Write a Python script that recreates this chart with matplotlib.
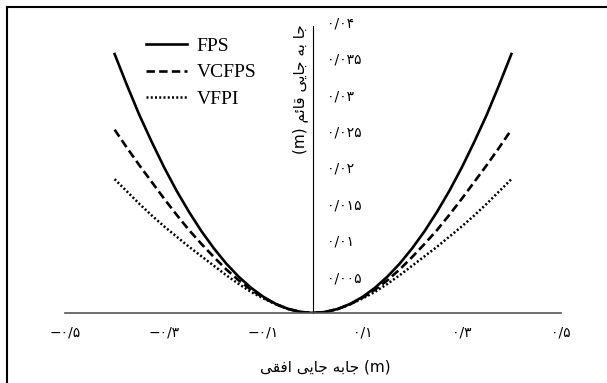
import matplotlib
matplotlib.use('Agg')
import matplotlib.pyplot as plt
from matplotlib.lines import Line2D
from matplotlib.transforms import ScaledTranslation

# داده ها (خوانده شده از تصویر)
x = [-0.4, -0.375, -0.35, -0.325, -0.3, -0.275, -0.25, -0.225, -0.2, -0.175, -0.15, -0.125,
     -0.1, -0.075, -0.05, -0.025, 0.0, 0.025, 0.05, 0.075, 0.1, 0.125, 0.15, 0.175,
     0.2, 0.225, 0.25, 0.275, 0.3, 0.325, 0.35, 0.375, 0.4]
fps = [0.0356, 0.0313, 0.0272, 0.0235, 0.0200, 0.0168, 0.0139, 0.01125, 0.0089, 0.0068, 0.0050, 0.00347,
       0.00222, 0.00125, 0.00056, 0.00014, 0.0, 0.00014, 0.00056, 0.00125, 0.00222, 0.00347, 0.0050, 0.0068,
       0.0089, 0.01125, 0.0139, 0.0168, 0.0200, 0.0235, 0.0272, 0.0313, 0.0356]
vcfps = [0.0252, 0.0227, 0.0203, 0.0180, 0.0157, 0.0135, 0.0114, 0.0095, 0.0077, 0.0060, 0.0045, 0.0032,
         0.0021, 0.0012, 0.00055, 0.00014, 0.0, 0.00014, 0.00055, 0.0012, 0.0021, 0.0032, 0.0045, 0.0060,
         0.0077, 0.0095, 0.0114, 0.0135, 0.0157, 0.0180, 0.0203, 0.0227, 0.0252]
vfpi = [0.0184, 0.0167, 0.0150, 0.0134, 0.0119, 0.0105, 0.0091, 0.0078, 0.0065, 0.0052, 0.0040, 0.0029,
        0.0020, 0.0012, 0.00054, 0.00014, 0.0, 0.00014, 0.00054, 0.0012, 0.0020, 0.0029, 0.0040, 0.0052,
        0.0065, 0.0078, 0.0091, 0.0105, 0.0119, 0.0134, 0.0150, 0.0167, 0.0184]

x_ticks = [-0.5, -0.3, -0.1, 0.1, 0.3, 0.5]
x_tick_labels = ['\u2212۰/۵', '\u2212۰/۳', '\u2212۰/۱', '۰/۱', '۰/۳', '۰/۵']
y_ticks = [0.005, 0.01, 0.015, 0.02, 0.025, 0.03, 0.035, 0.04]
y_tick_labels = ['۰/۰۰۵', '۰/۰۱', '۰/۰۱۵', '۰/۰۲', '۰/۰۲۵', '۰/۰۳', '۰/۰۳۵', '۰/۰۴']

# شکل حروف فارسی (تنها، پایانی، آغازی، میانی)
FORMS = {
    'ج': ('\uFE9D', '\uFE9E', '\uFE9F', '\uFEA0'),
    'ب': ('\uFE8F', '\uFE90', '\uFE91', '\uFE92'),
    'ه': ('\uFEE9', '\uFEEA', '\uFEEB', '\uFEEC'),
    'ی': ('\uFBFC', '\uFBFD', '\uFBFE', '\uFBFF'),
    'ق': ('\uFED5', '\uFED6', '\uFED7', '\uFED8'),
    'ئ': ('\uFE89', '\uFE8A', '\uFE8B', '\uFE8C'),
    'م': ('\uFEE1', '\uFEE2', '\uFEE3', '\uFEE4'),
    'ف': ('\uFED1', '\uFED2', '\uFED3', '\uFED4'),
    'ا': ('\uFE8D', '\uFE8E', None, None),
}


def farsi(text):
    out = []
    for i, ch in enumerate(text):
        if ch not in FORMS:
            out.append(ch)
            continue
        prev = text[i - 1] if i > 0 else ''
        nxt = text[i + 1] if i + 1 < len(text) else ''
        join_prev = prev in FORMS and FORMS[prev][2] is not None
        join_next = FORMS[ch][2] is not None and nxt in FORMS
        iso, fin, ini, med = FORMS[ch]
        if join_prev and join_next:
            out.append(med)
        elif join_prev:
            out.append(fin)
        elif join_next:
            out.append(ini)
        else:
            out.append(iso)
    return ''.join(out)[::-1]


x_label = farsi('جابه جایی افقی') + ' (m)'
y_label = '(m) ' + farsi('جا به جایی قائم')

fig = plt.figure(figsize=(6.07, 3.83), dpi=100)
ax = fig.add_axes([65 / 607, 70 / 383, 496 / 607, 291 / 383])

ax.plot(x, fps, color='black', lw=1.9, label='FPS')
ax.plot(x, vcfps, color='black', lw=1.9, linestyle=(0, (3.2, 1.6)), label='VCFPS')
ax.plot(x, vfpi, color='black', lw=1.8, linestyle=(0, (0.8, 0.9)), label='VFPI')

ax.set_xlim(-0.5, 0.5)
ax.set_ylim(0, 0.04)
ax.spines['top'].set_visible(False)
ax.spines['right'].set_visible(False)
ax.spines['left'].set_position(('data', 0))
ax.spines['left'].set_linewidth(0.8)
ax.spines['left'].set_bounds(0, 0.0395)
ax.spines['bottom'].set_color('#555555')
ax.spines['bottom'].set_linewidth(1.2)

ax.set_xticks(x_ticks)
ax.set_xticklabels(x_tick_labels, family=['DejaVu Sans'], fontsize=10)
off = ScaledTranslation(-6 / 100, 0, fig.dpi_scale_trans)
for lab in ax.get_xticklabels():
    lab.set_transform(lab.get_transform() + off)
ax.set_yticks(y_ticks)
ax.set_yticklabels(y_tick_labels, family=['DejaVu Sans'], fontsize=10)
for lab in ax.get_yticklabels():
    lab.set_ha('left')
ax.tick_params(axis='both', length=0)
ax.tick_params(axis='x', pad=9)
ax.tick_params(axis='y', pad=-10)

ax.text(-0.026, 0.0397, y_label, rotation=90, ha='center', va='top',
        family=['DejaVu Sans'], fontsize=11)
fig.text(325 / 607, 1 - 367 / 383, x_label, ha='center', va='center',
         family=['DejaVu Sans'], fontsize=11)

ax.legend(loc='upper left', bbox_to_anchor=(146 / 607, 1 - 37 / 383),
          bbox_transform=fig.transFigure, frameon=False, borderpad=0,
          borderaxespad=0, handlelength=2.1, handletextpad=0.5, labelspacing=0.47,
          prop={'family': 'Liberation Serif', 'size': 14})

# قاب دور تصویر
fig.add_artist(Line2D([7 / 607, 1], [1 - 7 / 383, 1 - 7 / 383], color='black', lw=1.5))
fig.add_artist(Line2D([7 / 607, 7 / 607], [0, 1 - 7 / 383], color='black', lw=1.5))

fig.savefig('out.png', dpi=100)
